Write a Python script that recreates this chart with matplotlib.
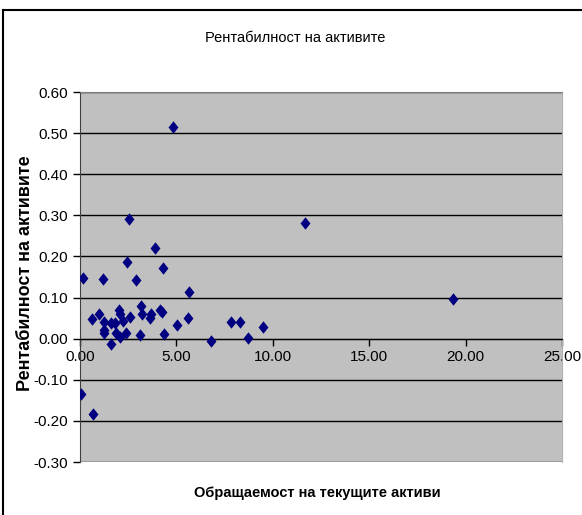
import matplotlib.pyplot as plt
from matplotlib.lines import Line2D

# turnover of current assets vs return on assets
turnover = [0.03, 0.17, 0.69, 0.63, 1.00, 1.18, 1.25, 1.25, 1.27, 1.60,
            1.60, 1.81, 1.88, 2.01, 2.05, 2.05, 2.22, 2.36, 2.46, 2.52,
            2.60, 2.92, 3.13, 3.16, 3.23, 3.61, 3.70, 3.91, 4.17, 4.27,
            4.31, 4.34, 4.81, 5.05, 5.59, 5.64, 6.78, 7.81, 8.30, 8.71,
            9.49, 11.65, 19.36]
roa = [-0.135, 0.147, -0.183, 0.049, 0.060, 0.144, 0.041, 0.015, 0.022, 0.037,
       -0.013, 0.037, 0.015, 0.070, 0.060, 0.003, 0.044, 0.015, 0.186, 0.291,
       0.053, 0.142, 0.009, 0.080, 0.060, 0.050, 0.060, 0.221, 0.070, 0.065,
       0.173, 0.011, 0.514, 0.033, 0.050, 0.114, -0.005, 0.041, 0.041, 0.001,
       0.028, 0.282, 0.096]

x_ticks = [0, 5, 10, 15, 20, 25]
y_ticks = [-0.3, -0.2, -0.1, 0.0, 0.1, 0.2, 0.3, 0.4, 0.5, 0.6]

plt.rcParams['font.family'] = ['Liberation Sans', 'DejaVu Sans']

fig = plt.figure(figsize=(5.82, 5.15), dpi=100)
ax = fig.add_axes([80 / 582, 1 - 462 / 515, 482 / 582, 370 / 515])
ax.set_facecolor('#c0c0c0')

diamond = [(0, 1), (0.8, 0), (0, -1), (-0.8, 0), (0, 1)]
ax.scatter(turnover, roa, marker=diamond, s=80, color='#000080', zorder=3,
           linewidths=0)

ax.set_xlim(0, 25)
ax.set_ylim(-0.3, 0.6)
ax.set_xticks(x_ticks)
ax.set_xticklabels([f'{v:.2f}' for v in x_ticks])
ax.set_yticks(y_ticks)
ax.set_yticklabels([f'{v:.2f}' for v in y_ticks])
ax.yaxis.grid(True, color='black', linewidth=1)
ax.set_axisbelow(True)

ax.spines['bottom'].set_position(('data', 0))
ax.spines['bottom'].set_color('black')
ax.spines['left'].set_color('#404040')
ax.spines['top'].set_color('#808080')
ax.spines['right'].set_color('#b0b0b0')
ax.tick_params(axis='both', direction='out', length=5, labelsize=11,
               colors='black', width=1)
ax.tick_params(axis='x', pad=3)

ax.set_ylabel('Рентабилност на активите', fontsize=13, fontweight='bold')
ax.yaxis.set_label_coords(-46 / 482, 0.51)
fig.text(317 / 582, 1 - 493 / 515, 'Обращаемост на текущите активи',
         ha='center', va='center', fontsize=10.5, fontweight='bold')
fig.text(295 / 582, 1 - 38 / 515, 'Рентабилност на активите',
         ha='center', va='center', fontsize=10.5)

# outer chart frame (top and left edges visible)
fig.add_artist(Line2D([3 / 582, 1], [1 - 10 / 515, 1 - 10 / 515],
                      color='black', linewidth=1.5))
fig.add_artist(Line2D([3 / 582, 3 / 582], [0, 1 - 10 / 515],
                      color='black', linewidth=1.5))

fig.savefig('out.png', dpi=100)
